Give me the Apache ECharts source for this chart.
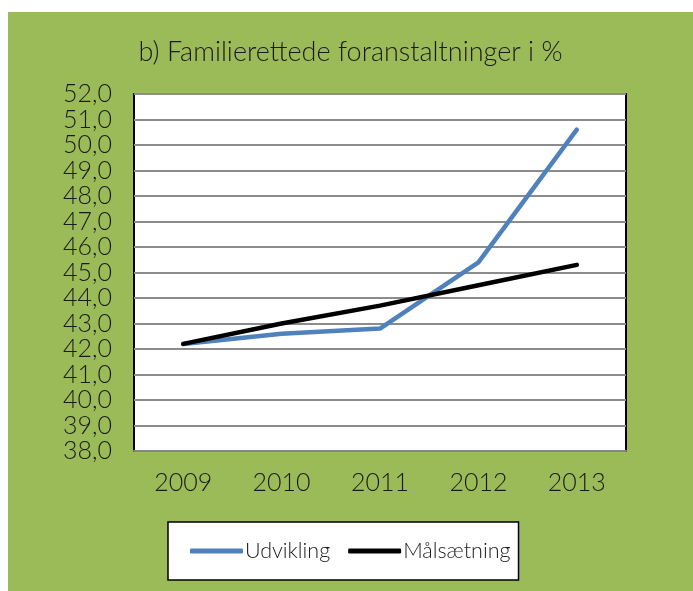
<!DOCTYPE html>
<html>
<head>
<meta charset="utf-8">
<script src="https://cdn.jsdelivr.net/npm/echarts@6/dist/echarts.min.js"></script>
<style>
html,body{margin:0;padding:0;background:#fff;}
#wrap{position:absolute;left:0;top:0;width:693px;height:591px;background:#fff;}
#chart{position:absolute;left:8px;top:12px;width:685px;height:579px;}
</style>
</head>
<body>
<div id="wrap"><div id="chart"></div></div>
<script>
const titleText = 'b) Familierettede foranstaltninger i %';
const categories = ['2009', '2010', '2011', '2012', '2013'];
const udvikling = [42.2, 42.6, 42.8, 45.4, 50.6];
const maalsaetning = [42.2, 43.0, 43.7, 44.5, 45.3];
const seriesNames = ['Udvikling', 'Målsætning'];
const seriesColors = ['#4F81BD', '#000000'];
const yMin = 38, yMax = 52, yStep = 1;

const FONT = 'Lato';
const chart = echarts.init(document.getElementById('chart'));
chart.setOption({
  backgroundColor: '#9BBB59',
  animation: false,
  title: {
    text: titleText,
    left: 'center',
    top: 22,
    textStyle: {fontFamily: FONT, fontWeight: 300, fontSize: 27, color: '#1a1a1a'}
  },
  grid: {
    left: 126, right: 67, top: 82, bottom: 140,
    show: true, backgroundColor: '#fff', borderColor: '#000', borderWidth: 2,
    containLabel: false
  },
  legend: {
    left: 160, top: 510,
    data: seriesNames.map((n, i) => ({name: n, icon: 'roundRect', itemStyle: {color: seriesColors[i]}})),
    backgroundColor: '#fff',
    borderColor: '#000',
    borderWidth: 1.5,
    borderRadius: 0,
    padding: [18, 8, 18, 22],
    itemWidth: 53, itemHeight: 5,
    itemGap: 18,
    textStyle: {fontFamily: FONT, fontWeight: 300, fontSize: 21.5, color: '#1a1a1a', padding: [0,0,0,-3]}
  },
  xAxis: {
    type: 'category',
    data: categories,
    boundaryGap: true,
    axisLine: {show: true, lineStyle: {color: '#868686', width: 2}},
    axisTick: {show: false},
    axisLabel: {fontFamily: FONT, fontWeight: 300, fontSize: 25, color: '#1a1a1a', margin: 19}
  },
  yAxis: {
    type: 'value',
    min: yMin, max: yMax, interval: yStep,
    axisLine: {show: false},
    axisTick: {show: false},
    splitLine: {show: true, lineStyle: {color: '#8c8c8c', width: 2}},
    axisLabel: {
      fontFamily: FONT, fontWeight: 300, fontSize: 25, color: '#1a1a1a', margin: 22,
      formatter: v => v.toFixed(1).replace('.', ',')
    }
  },
  series: [
    {
      name: seriesNames[0], type: 'line', data: udvikling,
      symbol: 'none', lineStyle: {color: seriesColors[0], width: 4.5, cap: 'round', join: 'round'},
      itemStyle: {color: seriesColors[0]}
    },
    {
      name: seriesNames[1], type: 'line', data: maalsaetning,
      symbol: 'none', lineStyle: {color: seriesColors[1], width: 4.5, cap: 'round', join: 'round'},
      itemStyle: {color: seriesColors[1]}
    }
  ]
});
</script>
</body>
</html>
